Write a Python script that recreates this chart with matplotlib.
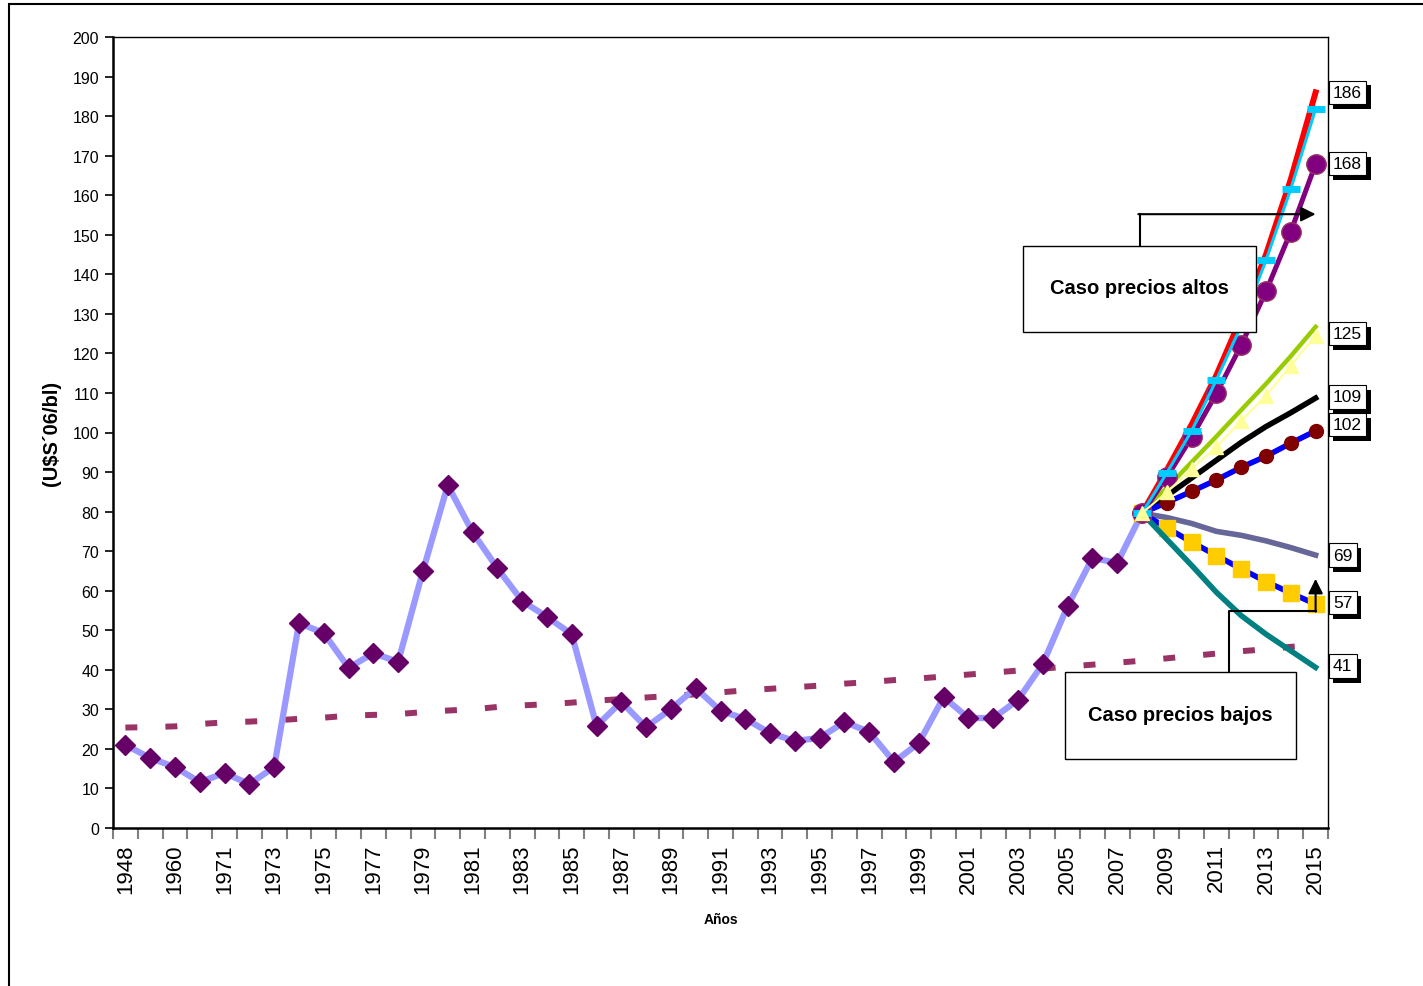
import matplotlib
matplotlib.use("Agg")
from matplotlib import pyplot as plt
from matplotlib import patheffects
from matplotlib.patches import Rectangle
import numpy as np

plt.rcParams["font.family"] = ["Liberation Sans", "DejaVu Sans"]

# Categories (first four are irregular years, then yearly)
years = ["1948", "1955", "1960", "1965"] + [str(y) for y in range(1971, 2016)]

# Historical price (U$S'06/bl), 1948 .. 2008
historico = [21.0, 17.7, 15.4, 11.6, 13.9, 11.1, 15.4, 51.8, 49.3, 40.5,
             44.2, 42.0, 65.0, 86.7, 74.8, 65.7, 57.4, 53.4, 49.0, 25.8,
             31.9, 25.5, 30.1, 35.4, 29.6, 27.6, 24.0, 22.0, 22.8, 26.8,
             24.3, 16.7, 21.5, 33.1, 27.8, 27.8, 32.4, 41.5, 56.1, 68.3,
             67.0, 79.6]

# Long term trend, 1948 .. 2015
tendencia = [25.4, 25.5, 25.7, 26.3, 26.7, 26.9, 27.2, 27.6, 27.9, 28.4,
             28.6, 28.8, 29.3, 29.7, 30.0, 30.6, 31.0, 31.3, 31.7, 32.2,
             32.6, 33.0, 33.4, 33.8, 34.3, 34.8, 35.2, 35.6, 36.0, 36.5,
             36.9, 37.4, 37.8, 38.3, 38.8, 39.3, 39.8, 40.3, 40.8, 41.3,
             41.8, 42.3, 42.9, 43.5, 44.1, 44.7, 45.2, 45.8, 46.3]

# Scenarios 2008 .. 2015
proy_rojo = [79.6, 90.5, 102.0, 114.5, 129.0, 145.0, 164.0, 186.0]
proy_celeste = [79.6, 89.8, 100.4, 113.3, 127.0, 143.6, 161.6, 181.8]
proy_violeta = [79.6, 88.7, 98.8, 109.9, 122.1, 135.7, 150.8, 167.9]
proy_verde = [79.6, 86.0, 92.5, 99.0, 105.7, 112.3, 119.3, 126.7]
proy_triang = [79.6, 84.9, 90.8, 96.3, 103.0, 109.3, 116.9, 124.5]
proy_negro = [79.6, 84.0, 88.5, 93.0, 97.5, 101.5, 105.0, 108.7]
proy_azul = [79.6, 82.3, 85.1, 88.0, 91.2, 94.0, 97.3, 100.4]
proy_gris = [79.6, 78.5, 77.0, 75.0, 74.0, 72.6, 70.9, 69.0]
proy_cuadr = [79.6, 75.9, 72.3, 68.9, 65.5, 62.3, 59.4, 56.6]
proy_teal = [79.6, 73.0, 66.4, 59.6, 53.7, 49.0, 44.8, 40.6]

# End labels
etiquetas = [186, 168, 125, 109, 102, 69, 57, 41]

x_all = np.arange(len(years))
x_hist = x_all[:len(historico)]
x_proy = x_all[len(historico) - 1:]

fig = plt.figure(figsize=(14.23, 9.87), dpi=100)
ax = fig.add_axes([113 / 1423, 1 - 829 / 987, (1328 - 113) / 1423, (829 - 38) / 987])

# Outer frame
fig.patches.append(Rectangle((9 / 1423, -0.1), 1.2, 1.1 - 5 / 987, transform=fig.transFigure,
                             fill=False, edgecolor="black", linewidth=1.5))

# Trend
trend, = ax.plot(x_all, tendencia, color="#993366", lw=4.3, solid_capstyle="butt", zorder=2)
trend.set_dashes([2.0, 4.7])

# Historical
ax.plot(x_hist, historico, color="#9999FF", lw=4.5, marker="D", markersize=10.5,
        markerfacecolor="#660066", markeredgecolor="#660066", zorder=3)

# Scenarios
ax.plot(x_proy, proy_rojo, color="#FF0000", lw=4.3, zorder=4)
ax.plot(x_proy, proy_celeste, color="#00CCFF", lw=2.2, marker="_", markersize=13,
        markeredgewidth=5, zorder=5)
ax.plot(x_proy, proy_violeta, color="#800080", lw=3.6, marker="o", markersize=14,
        markerfacecolor="#800080", markeredgecolor="#993366", markeredgewidth=1, zorder=4.5)
ax.plot(x_proy, proy_verde, color="#99CC00", lw=3.2, zorder=4)
ax.plot(x_proy, proy_triang, color="#FFFF99", lw=1.5, marker="^", markersize=10,
        markerfacecolor="#FFFF99", markeredgecolor="#FFFF99", zorder=5.5)
ax.plot(x_proy, proy_negro, color="black", lw=4.0, zorder=4)
ax.plot(x_proy, proy_azul, color="#0000FF", lw=4.0, marker="o", markersize=10,
        markerfacecolor="#800000", markeredgecolor="#800000", zorder=4)
ax.plot(x_proy, proy_gris, color="#666699", lw=4.0, zorder=4)
ax.plot(x_proy, proy_cuadr, color="#0000FF", lw=4.0, marker="s", markersize=12,
        markerfacecolor="#FFCC00", markeredgecolor="#FFCC00", zorder=4)
ax.plot(x_proy, proy_teal, color="#008080", lw=4.0, zorder=4)

# End value labels with shadow
for val in etiquetas:
    t = ax.annotate(str(val), xy=(x_all[-1] + 0.5, val), xytext=(3.5, 0),
                    textcoords="offset points", ha="left", va="center", fontsize=12.5,
                    annotation_clip=False, zorder=10,
                    bbox=dict(boxstyle="square,pad=0.25", facecolor="white",
                              edgecolor="black", linewidth=0.8))
    t.get_bbox_patch().set_path_effects([
        patheffects.withSimplePatchShadow(offset=(3.5, -3.5), shadow_rgbFace="black", alpha=1.0),
    ])

# Annotation: high prices
ax.add_patch(Rectangle((36.2, 125.4), 9.4, 21.8, facecolor="white", edgecolor="black",
                       lw=1.0, zorder=8))
ax.text(40.9, 136.6, "Caso precios altos", ha="center", va="center", fontsize=14.5,
        fontweight="bold", zorder=9)
ax.plot([40.9, 40.9], [147.2, 155.2], color="black", lw=1.5, zorder=8)
ax.annotate("", xy=(48.0, 155.2), xytext=(40.85, 155.2),
            arrowprops=dict(arrowstyle="-|>", color="black", lw=1.5, mutation_scale=22,
                            shrinkA=0, shrinkB=0), zorder=8)

# Annotation: low prices
ax.add_patch(Rectangle((37.9, 17.4), 9.3, 22.0, facecolor="white", edgecolor="black",
                       lw=1.0, zorder=8))
ax.text(42.55, 28.6, "Caso precios bajos", ha="center", va="center", fontsize=14.5,
        fontweight="bold", zorder=9)
ax.plot([44.5, 44.5, 48.0], [39.4, 54.9, 54.9], color="black", lw=1.5, zorder=8)
ax.annotate("", xy=(48.0, 63.0), xytext=(48.0, 54.7),
            arrowprops=dict(arrowstyle="-|>", color="black", lw=1.5, mutation_scale=22,
                            shrinkA=0, shrinkB=0), zorder=8)

# Axes formatting
ax.set_xlim(-0.5, len(years) - 0.5)
ax.set_ylim(0, 200)
ax.set_yticks(np.arange(0, 201, 10))
ax.tick_params(axis="y", length=6, width=1.2, labelsize=11.5, pad=4)

ax.set_xticks(np.arange(-0.5, len(years), 1))
ax.set_xticklabels([])
ax.tick_params(axis="x", which="major", length=8, width=1.5, color="#808080")
ax.set_xticks(x_all[::2], minor=True)
ax.set_xticklabels(years[::2], minor=True, rotation=90, fontsize=16)
ax.tick_params(axis="x", which="minor", length=0, pad=11)

for side in ["left", "bottom"]:
    ax.spines[side].set_linewidth(1.8)
for side in ["top", "right"]:
    ax.spines[side].set_linewidth(1.0)

ax.set_ylabel("(U$S´06/bl)", fontsize=14.5, fontweight="bold")
ax.yaxis.set_label_coords(-0.043, 0.5)
ax.set_xlabel("Años", fontsize=10, fontweight="bold")
ax.xaxis.set_label_coords(0.5, -0.106)

fig.savefig("out.png", dpi=100)
